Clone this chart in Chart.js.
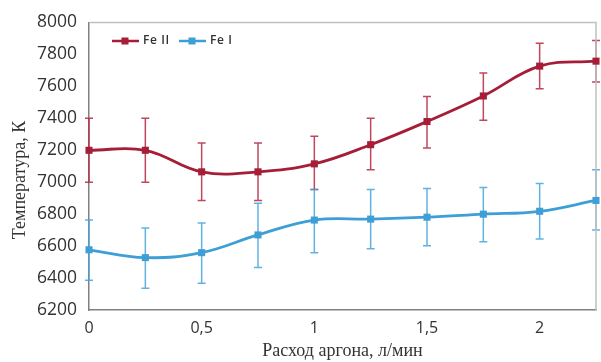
<!DOCTYPE html>
<html>
<head>
<meta charset="utf-8">
<script src="https://cdn.jsdelivr.net/npm/chart.js@4.4.1/dist/chart.umd.min.js"></script>
<style>
html, body { margin: 0; padding: 0; background: #fff; }
</style>
</head>
<body>
<canvas id="myChart" width="601" height="362"></canvas>
<script>
// расход аргона, л/мин
const flow = [0, 0.25, 0.5, 0.75, 1, 1.25, 1.5, 1.75, 2, 2.25];
// Fe II
const feII = [7200, 7200, 7065, 7065, 7115, 7235, 7380, 7540, 7727, 7758];
const feIIHi = [7400, 7400, 7245, 7245, 7288, 7400, 7536, 7684, 7870, 7888];
const feIILo = [7000, 7000, 6886, 6886, 6955, 7078, 7214, 7388, 7585, 7628];
// Fe I
const feI = [6577, 6528, 6559, 6670, 6763, 6769, 6781, 6800, 6818, 6886];
const feIHi = [6763, 6713, 6744, 6868, 6955, 6954, 6961, 6967, 6992, 7078];
const feILo = [6386, 6336, 6367, 6466, 6559, 6583, 6602, 6627, 6645, 6701];

const labels = ['Fe II', 'Fe I'];
const yTitle = 'Температура, К';
const xTitle = 'Расход аргона, л/мин';
const RED = '#a51d37';
const BLUE = '#3d9fd6';
const TICK_FONT = '"Open Sans", "Liberation Sans", sans-serif';
const TITLE_FONT = '"Liberation Serif", "Times New Roman", serif';

const toXY = arr => arr.map((v, i) => ({ x: flow[i], y: v }));

const errBars = {
    id: 'errBars',
    beforeDatasetsDraw(chart) {
        const ctx = chart.ctx;
        const xs = chart.scales.x, ys = chart.scales.y;
        const sets = [[feIIHi, feIILo, 'rgba(180,40,65,0.85)'], [feIHi, feILo, 'rgba(70,165,220,0.85)']];
        ctx.save();
        ctx.lineWidth = 1.5;
        sets.forEach(([hi, lo, col]) => {
            ctx.strokeStyle = col;
            flow.forEach((f, i) => {
                const px = xs.getPixelForValue(f);
                const top = ys.getPixelForValue(hi[i]);
                const bot = ys.getPixelForValue(lo[i]);
                ctx.beginPath();
                ctx.moveTo(px, top); ctx.lineTo(px, bot);
                ctx.moveTo(px - 4, top); ctx.lineTo(px + 4, top);
                ctx.moveTo(px - 4, bot); ctx.lineTo(px + 4, bot);
                ctx.stroke();
            });
        });
        // рамка сверху и справа
        const a = chart.chartArea;
        ctx.strokeStyle = '#c0c0c0';
        ctx.lineWidth = 1.5;
        ctx.beginPath();
        ctx.moveTo(a.left, a.top); ctx.lineTo(a.right, a.top); ctx.lineTo(a.right, a.bottom);
        ctx.stroke();
        // подпись оси Y
        ctx.save();
        ctx.translate(20, 180);
        ctx.rotate(-Math.PI / 2);
        ctx.font = '18px ' + TITLE_FONT;
        ctx.fillStyle = '#333';
        ctx.textAlign = 'center';
        ctx.textBaseline = 'middle';
        ctx.fillText(yTitle, 0, 0);
        ctx.restore();
        ctx.restore();
    },
    afterDraw(chart) {
        // легенда внутри области графика
        const ctx = chart.ctx;
        const items = [[112, RED, labels[0]], [179, BLUE, labels[1]]];
        const y = 41;
        ctx.save();
        ctx.font = '600 12px ' + TICK_FONT;
        ctx.letterSpacing = '0.6px';
        ctx.textBaseline = 'middle';
        items.forEach(([x0, col, txt]) => {
            ctx.strokeStyle = col;
            ctx.lineWidth = 2.5;
            ctx.beginPath(); ctx.moveTo(x0, y); ctx.lineTo(x0 + 27, y); ctx.stroke();
            ctx.fillStyle = col;
            ctx.fillRect(x0 + 13 - 3.5, y - 3.5, 7, 7);
            ctx.fillStyle = '#333';
            ctx.fillText(txt, x0 + 31, y);
        });
        ctx.restore();
    }
};

const ctx = document.getElementById('myChart').getContext('2d');
const myChart = new Chart(ctx, {
    type: 'line',
    data: {
        datasets: [{
            label: labels[0],
            data: toXY(feII),
            borderColor: RED,
            backgroundColor: RED,
            borderWidth: 2.8,
            pointStyle: 'rect',
            pointRadius: 5,
            pointBorderWidth: 0,
            tension: 0.4,
            clip: false
        }, {
            label: labels[1],
            data: toXY(feI),
            borderColor: BLUE,
            backgroundColor: BLUE,
            borderWidth: 2.8,
            pointStyle: 'rect',
            pointRadius: 5,
            pointBorderWidth: 0,
            tension: 0.4,
            clip: false
        }]
    },
    options: {
        responsive: false,
        animation: false,
        devicePixelRatio: 1,
        layout: { padding: { top: 19, right: 1 } },
        plugins: { legend: { display: false }, tooltip: { enabled: false } },
        scales: {
            x: {
                type: 'linear',
                min: 0,
                max: 2.25,
                grid: { display: false, drawTicks: false },
                border: { color: '#808080', width: 1.5 },
                ticks: {
                    stepSize: 0.5,
                    includeBounds: false,
                    padding: 9,
                    color: '#333',
                    font: { family: TICK_FONT, size: 16 },
                    callback: v => String(v).replace('.', ',')
                },
                title: {
                    display: true,
                    text: xTitle,
                    color: '#333',
                    font: { family: TITLE_FONT, size: 18 },
                    padding: { top: 0, bottom: 0 }
                },
                afterFit: s => { s.height = 52; }
            },
            y: {
                min: 6200,
                max: 8000,
                grid: { display: false, drawTicks: false },
                border: { color: '#808080', width: 1.5 },
                ticks: {
                    stepSize: 200,
                    padding: 12,
                    color: '#333',
                    font: { family: TICK_FONT, size: 17.5 },
                    callback: v => String(v)
                },
                title: { display: false },
                afterFit: s => { s.width = 89; }
            }
        }
    },
    plugins: [errBars]
});
</script>
</body>
</html>
